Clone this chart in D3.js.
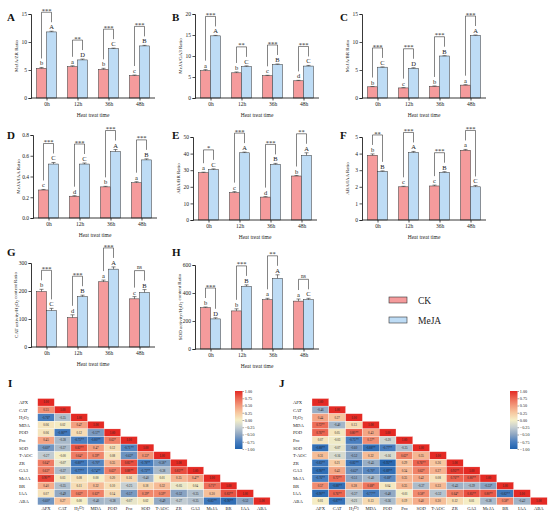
<!DOCTYPE html>
<html>
<head>
<meta charset="utf-8">
<script src="https://cdn.jsdelivr.net/npm/d3@7"></script>
<style>
  body { margin: 0; background: #fff; }
  svg { display: block; font-family: "Liberation Serif", "Times New Roman", serif; }
</style>
</head>
<body>
<svg id="fig" width="550" height="512"></svg>
<script>
var times = ["0h", "12h", "36h", "48h"];

// A  MeJA/ZR
var aCK = [5.3, 5.6, 5.1, 4.0], aCKerr = [0.15, 0.15, 0.2, 0.1];
var aMJ = [11.8, 6.8, 8.8, 9.3], aMJerr = [0.12, 0.15, 0.1, 0.1];
var aLetCK = ["b", "a", "b", "c"], aLetMJ = ["A", "D", "C", "B"], aSig = ["***", "**", "***", "***"];
// B  MeJA/GA3
var bCK = [6.5, 6.0, 5.3, 4.1], bCKerr = [0.25, 0.2, 0.1, 0.1];
var bMJ = [14.8, 7.5, 8.0, 7.6], bMJerr = [0.1, 0.15, 0.1, 0.15];
var bLetCK = ["a", "b", "c", "d"], bLetMJ = ["A", "C", "B", "C"], bSig = ["***", "**", "***", "***"];
// C  MeJA/BR
var cCK = [2.0, 1.8, 2.1, 2.3], cCKerr = [0.05, 0.05, 0.05, 0.08];
var cMJ = [5.5, 5.3, 7.5, 11.2], cMJerr = [0.05, 0.1, 0.05, 0.05];
var cLetCK = ["b", "c", "b", "a"], cLetMJ = ["C", "D", "B", "A"], cSig = ["***", "***", "***", "***"];
// D  MeJA/IAA
var dCK = [0.27, 0.21, 0.30, 0.34], dCKerr = [0.005, 0.005, 0.005, 0.01];
var dMJ = [0.52, 0.52, 0.64, 0.56], dMJerr = [0.015, 0.01, 0.02, 0.01];
var dLetCK = ["c", "d", "b", "a"], dLetMJ = ["C", "C", "A", "B"], dSig = ["***", "***", "***", "***"];
// E  ABA/BR
var eCK = [28.5, 16.5, 13.8, 26.5], eCKerr = [0.3, 0.6, 0.3, 0.3];
var eMJ = [30.3, 40.5, 33.5, 39.0], eMJerr = [0.5, 0.4, 0.6, 1.5];
var eLetCK = ["a", "c", "d", "b"], eLetMJ = ["C", "A", "B", "A"], eSig = ["*", "***", "***", "**"];
// F  ABA/IAA
var fCK = [3.9, 2.0, 2.05, 4.2], fCKerr = [0.08, 0.03, 0.05, 0.05];
var fMJ = [2.93, 4.07, 2.87, 2.0], fMJerr = [0.03, 0.06, 0.04, 0.08];
var fLetCK = ["b", "c", "c", "a"], fLetMJ = ["B", "A", "B", "C"], fSig = ["**", "***", "***", "***"];
// G  CAT activity/H2O2 content
var gCK = [198, 105, 233, 172], gCKerr = [8, 10, 6, 8];
var gMJ = [130, 180, 278, 195], gMJerr = [8, 5, 8, 10];
var gLetCK = ["b", "d", "a", "c"], gLetMJ = ["C", "B", "A", "B"], gSig = ["***", "***", "***", "ns"];
// H  SOD activity/H2O2 content
var hCK = [295, 272, 352, 342], hCKerr = [5, 15, 10, 15];
var hMJ = [215, 448, 505, 352], hMJerr = [8, 10, 25, 10];
var hLetCK = ["b", "b", "a", "a"], hLetMJ = ["D", "B", "A", "C"], hSig = ["***", "***", "**", "ns"];

// correlation heatmaps (lower triangle, "*" = significance)
var vars = ["APX", "CAT", "H2O2", "MDA", "POD", "Pro", "SOD", "T-AOC", "ZR", "GA3", "MeJA", "BR", "IAA", "ABA"];
var corrI = [
  ["1.00"],
  ["0.55", "1.00"],
  ["-0.76*", "-0.35", "1.00"],
  ["0.06", "0.02", "0.47", "1.00"],
  ["0.06", "-0.80**", "0.12", "-0.57*", "1.00"],
  ["0.45", "-0.38", "-0.75**", "-0.80**", "0.62*", "1.00"],
  ["-0.60*", "-0.37", "0.82**", "0.47", "0.12", "-0.71**", "1.00"],
  ["-0.27", "-0.00", "0.64*", "0.59*", "0.08", "-0.62*", "0.53*", "1.00"],
  ["0.64*", "-0.07", "-0.80**", "-0.70*", "0.35", "0.85**", "-0.78**", "-0.58*", "1.00"],
  ["0.63*", "-0.37", "-0.77**", "-0.74**", "0.63*", "0.88**", "-0.72**", "-0.38", "0.85**", "1.00"],
  ["0.90**", "0.03", "0.08", "0.00", "0.20", "0.16", "-0.40", "0.01", "0.35", "0.47*", "1.00"],
  ["0.40", "-0.35", "0.11", "0.32", "0.10", "-0.25", "0.18", "0.32", "-0.05", "0.04", "0.71*", "1.00"],
  ["0.07", "-0.49", "0.62*", "0.62*", "0.14", "-0.57", "0.59*", "0.59*", "-0.52", "-0.35", "0.30", "0.83**", "1.00"],
  ["-0.60*", "0.27", "0.00", "-0.40", "-0.38", "-0.07", "0.02", "-0.49", "-0.27", "-0.35", "-0.83**", "-0.90**", "-0.52", "1.00"]
];
var corrJ = [
  ["1.00"],
  ["-0.46", "1.00"],
  ["0.44", "0.27", "1.00"],
  ["0.72**", "-0.40", "0.13", "1.00"],
  ["0.76**", "0.05", "0.80**", "0.43", "1.00"],
  ["0.07", "-0.03", "-0.75**", "0.57*", "-0.20", "1.00"],
  ["-0.88**", "-0.07", "-0.60", "-0.88**", "-0.77**", "-0.35", "1.00"],
  ["0.31", "-0.16", "-0.52", "0.32", "-0.16", "0.62*", "0.35", "1.00"],
  ["-0.83**", "0.21", "-0.82**", "-0.45", "-0.95**", "0.29", "0.76**", "0.26", "1.00"],
  ["-0.90**", "0.43", "-0.62*", "-0.70*", "-0.89**", "0.34", "0.62*", "0.37", "0.93**", "1.00"],
  ["-0.76**", "0.72**", "-0.51", "-0.40", "-0.68*", "0.35", "0.42", "0.08", "0.76**", "0.80**", "1.00"],
  ["0.57", "-0.88**", "0.38", "0.68*", "0.04", "0.35", "-0.37", "0.33", "-0.43", "-0.39", "-0.53*", "1.00"],
  ["-0.90**", "0.76**", "-0.37", "-0.77**", "-0.48", "-0.01", "0.58*", "-0.32", "0.64*", "0.85**", "0.80**", "-0.82**", "1.00"],
  ["0.01", "-0.87**", "-0.21", "0.13", "-0.36", "0.19", "0.40", "0.30", "0.12", "0.01", "-0.38", "0.58*", "-0.42", "1.00"]
];
var cbTicks = [1, 0.75, 0.5, 0.25, 0, -0.25, -0.5, -0.75, -1];

var ckFill = "#f59b9c", mjFill = "#bedcf5", ink = "#333";
var svg = d3.select("#fig");

var panels = [
  {id: "A", lx: 7, ly: 21, x0: 31, yt: 14, yb: 98, max: 15, ticks: [0, 5, 10, 15], fmt: d3.format("d"), title: "MeJA/ZR Ratio", ck: aCK, ckE: aCKerr, mj: aMJ, mjE: aMJerr, lc: aLetCK, lm: aLetMJ, sig: aSig},
  {id: "B", lx: 172, ly: 21, x0: 195, yt: 14, yb: 98, max: 20, ticks: [0, 5, 10, 15, 20], fmt: d3.format("d"), title: "MeJA/GA3 Ratio", ck: bCK, ckE: bCKerr, mj: bMJ, mjE: bMJerr, lc: bLetCK, lm: bLetMJ, sig: bSig},
  {id: "C", lx: 340, ly: 21, x0: 362, yt: 14, yb: 98, max: 15, ticks: [0, 5, 10, 15], fmt: d3.format("d"), title: "MeJA/BR Ratio", ck: cCK, ckE: cCKerr, mj: cMJ, mjE: cMJerr, lc: cLetCK, lm: cLetMJ, sig: cSig},
  {id: "D", lx: 7, ly: 139, x0: 33, yt: 135, yb: 218, max: 0.8, ticks: [0, 0.2, 0.4, 0.6, 0.8], fmt: d3.format(".1f"), title: "MeJA/IAA Ratio", ck: dCK, ckE: dCKerr, mj: dMJ, mjE: dMJerr, lc: dLetCK, lm: dLetMJ, sig: dSig},
  {id: "E", lx: 172, ly: 139, x0: 193, yt: 137, yb: 220, max: 50, ticks: [0, 10, 20, 30, 40, 50], fmt: d3.format("d"), title: "ABA/BR Ratio", ck: eCK, ckE: eCKerr, mj: eMJ, mjE: eMJerr, lc: eLetCK, lm: eLetMJ, sig: eSig},
  {id: "F", lx: 340, ly: 139, x0: 362, yt: 137, yb: 220, max: 5, ticks: [0, 1, 2, 3, 4, 5], fmt: d3.format("d"), title: "ABA/IAA Ratio", ck: fCK, ckE: fCKerr, mj: fMJ, mjE: fMJerr, lc: fLetCK, lm: fLetMJ, sig: fSig},
  {id: "G", lx: 7, ly: 256, x0: 31, yt: 263, yb: 347, max: 300, ticks: [0, 100, 200, 300], fmt: d3.format("d"), title: "CAT activity/H2O2 content Ratio", ck: gCK, ckE: gCKerr, mj: gMJ, mjE: gMJerr, lc: gLetCK, lm: gLetMJ, sig: gSig},
  {id: "H", lx: 172, ly: 256, x0: 195, yt: 265, yb: 349, max: 600, ticks: [0, 200, 400, 600], fmt: d3.format("d"), title: "SOD activity/H2O2 content Ratio", ck: hCK, ckE: hCKerr, mj: hMJ, mjE: hMJerr, lc: hLetCK, lm: hLetMJ, sig: hSig}
];

// writes "H2O2" with subscripts
function labelText(sel, s) {
  if (s.indexOf("H2O2") < 0) { sel.text(s); return; }
  var before = s.split("H2O2")[0], after = s.split("H2O2")[1];
  sel.append("tspan").text(before + "H");
  sel.append("tspan").attr("font-size", "0.7em").attr("dy", "0.25em").text("2");
  sel.append("tspan").attr("dy", "-0.25em").text("O");
  sel.append("tspan").attr("font-size", "0.7em").attr("dy", "0.25em").text("2");
  sel.append("tspan").attr("dy", "-0.25em").text(after);
}

function drawPanel(p) {
  var x = d3.scalePoint().domain(times).range([p.x0, p.x0 + 124]).padding(0.5);
  var y = d3.scaleLinear().domain([0, p.max]).range([p.yb, p.yt]);
  var g = svg.append("g");
  var bw = 10;

  var series = [
    {v: p.ck, e: p.ckE, l: p.lc, fill: ckFill, dx: -bw},
    {v: p.mj, e: p.mjE, l: p.lm, fill: mjFill, dx: 0}
  ];
  series.forEach(function(s) {
    var sg = g.append("g");
    sg.selectAll("rect").data(times).enter().append("rect")
      .attr("x", function(t) { return x(t) + s.dx; })
      .attr("y", function(t, i) { return y(s.v[i]); })
      .attr("width", bw)
      .attr("height", function(t, i) { return y(0) - y(s.v[i]); })
      .attr("fill", s.fill).attr("stroke", ink).attr("stroke-width", 0.5);
    // upper error bar
    sg.selectAll("path.err").data(times).enter().append("path")
      .attr("d", function(t, i) {
        var cx = x(t) + s.dx + bw / 2, y1 = y(s.v[i]), y2 = y(s.v[i] + s.e[i]);
        return "M" + cx + "," + y1 + "V" + y2 + "M" + (cx - 2) + "," + y2 + "H" + (cx + 2);
      })
      .attr("stroke", ink).attr("stroke-width", 0.6).attr("fill", "none");
    sg.selectAll("text").data(times).enter().append("text")
      .attr("x", function(t) { return x(t) + s.dx + bw / 2; })
      .attr("y", function(t, i) { return y(s.v[i] + s.e[i]) - 2; })
      .attr("text-anchor", "middle").attr("font-size", 6.5).attr("fill", "#222")
      .text(function(t, i) { return s.l[i]; });
  });

  // significance brackets
  times.forEach(function(t, i) {
    var yc = y(p.ck[i] + p.ckE[i]), ym = y(p.mj[i] + p.mjE[i]);
    var top = Math.min(yc, ym) - 19;
    var xl = x(t) - bw / 2, xr = x(t) + bw / 2;
    g.append("path")
      .attr("d", "M" + xl + "," + (yc - 9) + "V" + top + "H" + xr + "V" + (ym - 9))
      .attr("fill", "none").attr("stroke", ink).attr("stroke-width", 0.6);
    g.append("text")
      .attr("x", x(t)).attr("y", p.sig[i] === "ns" ? top - 1.5 : top + 0.6)
      .attr("text-anchor", "middle").attr("font-size", p.sig[i] === "ns" ? 5.5 : 6.5)
      .attr("fill", "#222").text(p.sig[i]);
  });

  // axes
  var ya = g.append("g").attr("transform", "translate(" + p.x0 + ",0)")
    .call(d3.axisLeft(y).tickValues(p.ticks).tickFormat(p.fmt).tickSize(2.5).tickPadding(1.5));
  var xa = g.append("g").attr("transform", "translate(0," + p.yb + ")")
    .call(d3.axisBottom(x).tickSize(2.5).tickPadding(2));
  [ya, xa].forEach(function(a) {
    a.select(".domain").attr("stroke", "#222").attr("stroke-width", 0.9);
    a.selectAll(".tick line").attr("stroke", "#222").attr("stroke-width", 0.8);
    a.selectAll("text").attr("font-family", "Liberation Serif").attr("font-size", 5.5).attr("fill", "#222");
  });
  xa.select(".domain").attr("d", "M" + p.x0 + ",0H" + (p.x0 + 124));

  g.append("text")
    .attr("transform", "translate(" + (p.x0 - 13) + "," + ((p.yt + p.yb) / 2) + ") rotate(-90)")
    .attr("text-anchor", "middle").attr("font-size", 5).attr("fill", "#222")
    .call(labelText, p.title);
  g.append("text").attr("x", p.x0 + 62).attr("y", p.yb + 19)
    .attr("text-anchor", "middle").attr("font-size", 5.5).attr("fill", "#222")
    .text("Heat treat time");
  g.append("text").attr("x", p.lx).attr("y", p.ly)
    .attr("font-size", 11).attr("font-weight", "bold").attr("fill", "#111").text(p.id);
}

panels.forEach(drawPanel);

// legend
var legend = [{name: "CK", fill: ckFill}, {name: "MeJA", fill: mjFill}];
var lg = svg.append("g").attr("transform", "translate(389,297)");
legend.forEach(function(d, i) {
  lg.append("rect").attr("x", 0).attr("y", i * 20).attr("width", 18).attr("height", 6)
    .attr("fill", d.fill).attr("stroke", ink).attr("stroke-width", 0.6);
  lg.append("text").attr("x", 29).attr("y", i * 20 + 6.5).attr("font-size", 9.5)
    .attr("fill", "#222").text(d.name);
});

// heatmaps
var color = d3.scaleLinear()
  .domain([-1, -0.75, -0.5, -0.25, 0, 0.25, 0.5, 0.75, 1])
  .range(["#1f62ae", "#4a7fbf", "#8ea6c2", "#c6cfd2", "#f5eec6", "#f7c8a0", "#f3997b", "#ec6652", "#e42a24"]);

function drawHeat(id, lx, rows, x0, y0, cw, ch, rlx, cbx) {
  var g = svg.append("g");
  var xs = d3.scaleBand().domain(vars).range([x0, x0 + cw * vars.length]);
  var ys = d3.scaleBand().domain(vars).range([y0, y0 + ch * vars.length]);
  var cells = [];
  rows.forEach(function(r, i) {
    r.forEach(function(s, j) { cells.push({r: vars[i], c: vars[j], s: s, v: parseFloat(s)}); });
  });
  g.selectAll("rect").data(cells).enter().append("rect")
    .attr("x", function(d) { return xs(d.c); }).attr("y", function(d) { return ys(d.r); })
    .attr("width", xs.bandwidth()).attr("height", ys.bandwidth())
    .attr("fill", function(d) { return color(d.v); })
    .attr("stroke", "#fff").attr("stroke-width", 0.3);
  g.selectAll("text.v").data(cells).enter().append("text")
    .attr("x", function(d) { return xs(d.c) + xs.bandwidth() / 2; })
    .attr("y", function(d) { return ys(d.r) + ys.bandwidth() / 2 + 1.1; })
    .attr("text-anchor", "middle").attr("font-size", 3.1).attr("fill", "#222")
    .text(function(d) { return d.s; });
  g.selectAll("text.row").data(vars).enter().append("text")
    .attr("x", rlx).attr("y", function(d) { return ys(d) + ys.bandwidth() / 2 + 1.6; })
    .attr("font-size", 4.6).attr("fill", "#222")
    .each(function(d) { labelText(d3.select(this), d); });
  g.selectAll("text.col").data(vars).enter().append("text")
    .attr("x", function(d) { return xs(d) + xs.bandwidth() / 2; })
    .attr("y", y0 + ch * vars.length + 4.8)
    .attr("text-anchor", "middle").attr("font-size", 4.6).attr("fill", "#222")
    .each(function(d) { labelText(d3.select(this), d); });

  // colour bar
  var cb = d3.scaleLinear().domain([-1, 1]).range([449, 391]);
  var gradId = "grad" + id;
  var grad = svg.append("defs").append("linearGradient").attr("id", gradId)
    .attr("x1", 0).attr("y1", 1).attr("x2", 0).attr("y2", 0);
  color.domain().forEach(function(v) {
    grad.append("stop").attr("offset", (v + 1) / 2).attr("stop-color", color(v));
  });
  g.append("rect").attr("x", cbx).attr("y", 391).attr("width", 7.5).attr("height", 58)
    .attr("fill", "url(#" + gradId + ")");
  var ca = g.append("g").attr("transform", "translate(" + (cbx + 7.5) + ",0)")
    .call(d3.axisRight(cb).tickValues(cbTicks).tickFormat(d3.format(".2f")).tickSize(1.5).tickPadding(0.8));
  ca.select(".domain").remove();
  ca.selectAll(".tick line").attr("stroke", "#222").attr("stroke-width", 0.4);
  ca.selectAll("text").attr("font-family", "Liberation Serif").attr("font-size", 4.2).attr("fill", "#222");

  g.append("text").attr("x", lx).attr("y", 387).attr("font-size", 11)
    .attr("font-weight", "bold").attr("fill", "#111").text(id);
}

drawHeat("I", 8, corrI, 37.7, 398.5, 16.6, 7.6, 19, 235);
drawHeat("J", 279, corrJ, 312, 398.5, 16.8, 7.6, 293, 510);
</script>
</body>
</html>
